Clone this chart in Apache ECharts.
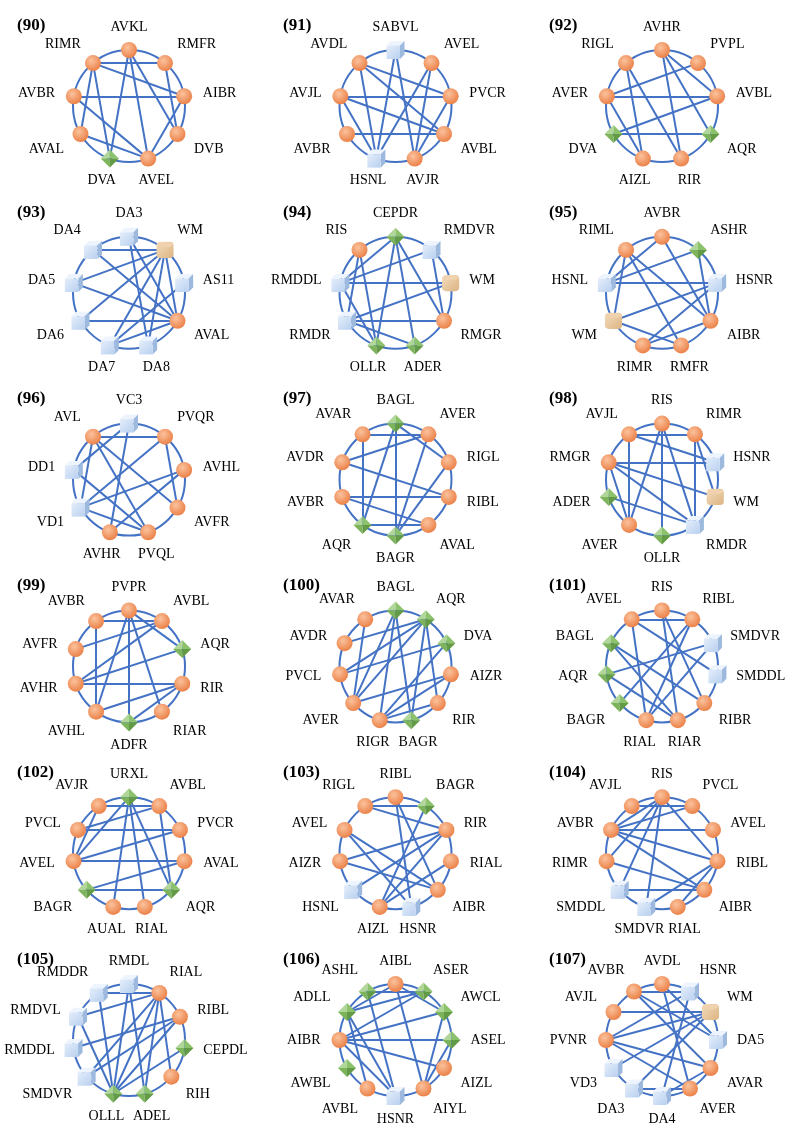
<!DOCTYPE html>
<html>
<head>
<meta charset="utf-8">
<script src="https://cdn.jsdelivr.net/npm/echarts@6/dist/echarts.min.js"></script>
<style>
  html, body { margin: 0; background: #fff; }
  #main { width: 790px; height: 1144px; }
</style>
</head>
<body>
<div id="main"></div>
<script>
// node kinds: o = orange ball, g = green diamond, b = blue cube, w = tan WM
var names90 = ['AVKL', 'RMFR', 'AIBR', 'DVB', 'AVEL', 'DVA', 'AVAL', 'AVBR', 'RIMR'];
var kinds90 = 'ooooogooo';
var edges90 = [['RIMR','RMFR'],['RIMR','AIBR'],['RIMR','DVA'],['RIMR','AVAL'],['AVKL','DVA'],['AVKL','AVEL'],
  ['AVKL','DVB'],['AVBR','AIBR'],['AVBR','AVEL'],['AVAL','AVEL'],['AIBR','AVEL'],['RMFR','DVB']];

var names91 = ['SABVL', 'AVEL', 'PVCR', 'AVBL', 'AVJR', 'HSNL', 'AVBR', 'AVJL', 'AVDL'];
var kinds91 = 'boooobooo';
var edges91 = [['SABVL','AVJR'],['AVDL','PVCR'],['AVDL','HSNL'],['AVDL','AVBL'],['AVJL','PVCR'],['AVJL','AVBL'],
  ['AVJL','HSNL'],['AVBR','AVBL'],['AVEL','AVJR'],['AVEL','HSNL'],['PVCR','AVJR'],['SABVL','HSNL']];

var names92 = ['AVHR', 'PVPL', 'AVBL', 'AQR', 'RIR', 'AIZL', 'DVA', 'AVER', 'RIGL'];
var kinds92 = 'ooogoogoo';
var edges92 = [['RIGL','AIZL'],['RIGL','RIR'],['AVHR','AVBL'],['AVHR','RIR'],['AVHR','AQR'],['AVER','PVPL'],
  ['AVER','AVBL'],['AVER','AIZL'],['DVA','AVBL'],['DVA','AQR']];

var names93 = ['DA3', 'WM', 'AS11', 'AVAL', 'DA8', 'DA7', 'DA6', 'DA5', 'DA4'];
var kinds93 = 'bwbobbbbb';
var edges93 = [['DA4','WM'],['DA4','AVAL'],['DA3','AVAL'],['DA3','DA8'],['WM','DA5'],['WM','DA6'],['WM','DA7'],
  ['WM','DA8'],['WM','AVAL'],['DA5','AVAL'],['DA6','AVAL'],['DA7','AVAL'],['AS11','DA7']];

var names94 = ['CEPDR', 'RMDVR', 'WM', 'RMGR', 'ADER', 'OLLR', 'RMDR', 'RMDDL', 'RIS'];
var kinds94 = 'gbwoggbbo';
var edges94 = [['CEPDR','RMDDL'],['CEPDR','OLLR'],['CEPDR','ADER'],['CEPDR','RMGR'],['RIS','OLLR'],['RIS','RMDR'],
  ['RMDVR','RMDDL'],['RMDVR','RMGR'],['RMDDL','WM'],['WM','RMDR'],['RMDR','RMGR'],['RMDR','ADER'],['RMDDL','OLLR']];

var names95 = ['AVBR', 'ASHR', 'HSNR', 'AIBR', 'RMFR', 'RIMR', 'WM', 'HSNL', 'RIML'];
var kinds95 = 'ogbooowbo';
var edges95 = [['AVBR','HSNL'],['AVBR','AIBR'],['ASHR','HSNL'],['ASHR','AIBR'],['RIML','WM'],['RIML','AIBR'],
  ['RIML','RMFR'],['HSNL','HSNR'],['HSNR','WM'],['HSNR','RIMR'],['WM','RMFR'],['RIMR','AIBR']];

var names96 = ['VC3', 'PVQR', 'AVHL', 'AVFR', 'PVQL', 'AVHR', 'VD1', 'DD1', 'AVL'];
var kinds96 = 'booooobbo';
var edges96 = [['AVL','PVQR'],['AVL','AVFR'],['AVL','PVQL'],['AVL','VD1'],['VC3','DD1'],['VC3','AVHR'],
  ['PVQR','VD1'],['PVQR','AVFR'],['AVHL','VD1'],['AVHL','AVHR'],['DD1','PVQL'],['VD1','PVQL']];

var names97 = ['BAGL', 'AVER', 'RIGL', 'RIBL', 'AVAL', 'BAGR', 'AQR', 'AVBR', 'AVDR', 'AVAR'];
var kinds97 = 'gooooggooo';
var edges97 = [['AVAR','AVER'],['AVAR','AQR'],['BAGL','AQR'],['BAGL','BAGR'],['BAGL','RIGL'],['AVER','AVDR'],
  ['AVDR','RIBL'],['AVBR','RIBL'],['AVBR','AVAL'],['RIGL','BAGR'],['AQR','AVAL'],['AVER','BAGR']];

var names98 = ['RIS', 'RIMR', 'HSNR', 'WM', 'RMDR', 'OLLR', 'AVER', 'ADER', 'RMGR', 'AVJL'];
var kinds98 = 'oobwbgogoo';
var edges98 = [['AVJL','RIMR'],['AVJL','HSNR'],['AVJL','AVER'],['RIS','AVER'],['RIS','OLLR'],['RIS','RMDR'],
  ['RIMR','RMDR'],['RIMR','WM'],['RMGR','HSNR'],['RMGR','WM'],['RMGR','RMDR'],['RMGR','AVER'],['ADER','RMDR']];

var names99 = ['PVPR', 'AVBL', 'AQR', 'RIR', 'RIAR', 'ADFR', 'AVHL', 'AVHR', 'AVFR', 'AVBR'];
var kinds99 = 'oogoogoooo';
var edges99 = [['AVBR','AVBL'],['AVBR','AVHL'],['PVPR','AQR'],['PVPR','AVHL'],['PVPR','ADFR'],['PVPR','RIAR'],
  ['AVBL','AVFR'],['AVBL','AVHR'],['AQR','AVHR'],['AVHR','RIR'],['AVHL','RIR'],['RIR','ADFR']];

var names100 = ['BAGL', 'AQR', 'DVA', 'AIZR', 'RIR', 'BAGR', 'RIGR', 'AVER', 'PVCL', 'AVDR', 'AVAR'];
var kinds100 = 'gggoogooooo';
var edges100 = [['BAGL','AVER'],['BAGL','RIGR'],['BAGL','BAGR'],['AQR','AVDR'],['AQR','PVCL'],['AQR','RIR'],
  ['AQR','BAGR'],['AQR','AVER'],['DVA','PVCL'],['DVA','RIGR'],['AVAR','AVER'],['AIZR','AVER'],['AIZR','RIGR'],['RIR','RIGR']];

var names101 = ['RIS', 'RIBL', 'SMDVR', 'SMDDL', 'RIBR', 'RIAR', 'RIAL', 'BAGR', 'AQR', 'BAGL', 'AVEL'];
var kinds101 = 'oobbooogggo';
var edges101 = [['AVEL','RIBL'],['AVEL','SMDDL'],['AVEL','RIAL'],['RIS','RIBR'],['RIS','RIAR'],['RIBL','RIAL'],
  ['RIBL','BAGR'],['BAGL','RIBR'],['BAGL','RIAR'],['AQR','SMDVR'],['AQR','RIAR'],['SMDVR','RIAL']];

var names102 = ['URXL', 'AVBL', 'PVCR', 'AVAL', 'AQR', 'RIAL', 'AUAL', 'BAGR', 'AVEL', 'PVCL', 'AVJR'];
var kinds102 = 'gooogoogooo';
var edges102 = [['AVJR','AVBL'],['AVJR','AVEL'],['URXL','AVEL'],['URXL','AUAL'],['URXL','RIAL'],['URXL','AQR'],
  ['AVBL','PVCL'],['AVBL','AQR'],['PVCL','PVCR'],['AVEL','PVCR'],['AVEL','AVAL'],['AVAL','BAGR'],['BAGR','AQR']];

var names103 = ['RIBL', 'BAGR', 'RIR', 'RIAL', 'AIBR', 'HSNR', 'AIZL', 'HSNL', 'AIZR', 'AVEL', 'RIGL'];
var kinds103 = 'ogooobobooo';
var edges103 = [['RIGL','BAGR'],['RIGL','RIR'],['RIBL','AIBR'],['RIBL','HSNR'],['BAGR','AIZL'],['AVEL','AIBR'],
  ['AVEL','HSNR'],['AIZR','RIR'],['AIZR','AIBR'],['RIR','HSNL'],['RIR','AIZL'],['RIAL','AIZL']];

var names104 = ['RIS', 'PVCL', 'AVEL', 'RIBL', 'AIBR', 'RIAL', 'SMDVR', 'SMDDL', 'RIMR', 'AVBR', 'AVJL'];
var kinds104 = 'oooooobbooo';
var edges104 = [['AVJL','PVCL'],['RIS','AVBR'],['RIS','RIMR'],['RIS','SMDDL'],['RIS','SMDVR'],['RIS','RIBL'],
  ['PVCL','AVBR'],['AVBR','AVEL'],['AVBR','RIBL'],['AVBR','AIBR'],['RIMR','AIBR'],['SMDDL','AIBR'],
  ['SMDVR','RIBL'],['RIAL','RIBL']];

var names105 = ['RMDL', 'RIAL', 'RIBL', 'CEPDL', 'RIH', 'ADEL', 'OLLL', 'SMDVR', 'RMDDL', 'RMDVL', 'RMDDR'];
var kinds105 = 'boogoggbbbb';
var edges105 = [['RMDDR','RIAL'],['RMDL','OLLL'],['RMDL','ADEL'],['RMDDR','OLLL'],['RMDVL','RIAL'],['RMDVL','OLLL'],
  ['RMDDL','RIBL'],['SMDVR','RIAL'],['RIAL','OLLL'],['RIAL','ADEL'],['RIAL','RIH'],['RIBL','OLLL'],
  ['CEPDL','OLLL'],['SMDVR','RIBL']];

var names106 = ['AIBL', 'ASER', 'AWCL', 'ASEL', 'AIZL', 'AIYL', 'HSNR', 'AVBL', 'AWBL', 'AIBR', 'ADLL', 'ASHL'];
var kinds106 = 'ogggoobogogg';
var edges106 = [['ASHL','ASER'],['ASHL','HSNR'],['AIBL','ADLL'],['AIBL','AIYL'],['AIBL','AWCL'],['ASER','ADLL'],
  ['ASER','AIBR'],['AWCL','AIBR'],['ADLL','AVBL'],['ADLL','HSNR'],['AIBR','ASEL'],['AIBR','AIZL'],
  ['AIBR','HSNR'],['ASEL','AIYL'],['AWCL','AIYL']];

var names107 = ['AVDL', 'HSNR', 'WM', 'DA5', 'AVAR', 'AVER', 'DA4', 'DA3', 'VD3', 'PVNR', 'AVJL', 'AVBR'];
var kinds107 = 'obwboobbbooo';
var edges107 = [['AVBR','HSNR'],['AVBR','DA5'],['AVBR','AVAR'],['AVDL','DA5'],['AVDL','AVER'],['HSNR','PVNR'],
  ['HSNR','DA4'],['WM','PVNR'],['WM','VD3'],['WM','DA3'],['WM','AVJL'],['PVNR','AVAR'],['PVNR','AVER'],
  ['DA3','AVER'],['DA4','AVAR']];

var panelIds = [90, 91, 92, 93, 94, 95, 96, 97, 98, 99, 100, 101, 102, 103, 104, 105, 106, 107];

var panelNames = [names90, names91, names92, names93, names94, names95, names96, names97, names98,
  names99, names100, names101, names102, names103, names104, names105, names106, names107];
var panelKinds = [kinds90, kinds91, kinds92, kinds93, kinds94, kinds95, kinds96, kinds97, kinds98,
  kinds99, kinds100, kinds101, kinds102, kinds103, kinds104, kinds105, kinds106, kinds107];
var panelEdges = [edges90, edges91, edges92, edges93, edges94, edges95, edges96, edges97, edges98,
  edges99, edges100, edges101, edges102, edges103, edges104, edges105, edges106, edges107];

var BLUE = '#4472c4';

function svgUri(body) {
  return 'image://data:image/svg+xml;charset=utf-8,' + encodeURIComponent(
    '<svg xmlns="http://www.w3.org/2000/svg" viewBox="0 0 20 20">' + body + '</svg>');
}

var cubeSym = svgUri(
  '<defs><linearGradient id="f" x1="0" y1="0" x2="1" y2="1">' +
  '<stop offset="0" stop-color="#e4eefb"/><stop offset="1" stop-color="#b9d0ef"/></linearGradient></defs>' +
  '<polygon points="1,5.5 5.5,1 19,1 14.5,5.5" fill="#eef4fd"/>' +
  '<polygon points="14.5,5.5 19,1 19,14.5 14.5,19" fill="#9db9de"/>' +
  '<rect x="1" y="5.5" width="13.5" height="13.5" fill="url(#f)"/>');

var diamondSym = svgUri(
  '<polygon points="10,1 1,10 10,10" fill="#b1d699"/>' +
  '<polygon points="10,1 19,10 10,10" fill="#8dc26c"/>' +
  '<polygon points="1,10 10,19 10,10" fill="#7db35a"/>' +
  '<polygon points="19,10 10,19 10,10" fill="#639a45"/>');

var wmSym = svgUri(
  '<defs><linearGradient id="t" x1="0" y1="0" x2="1" y2="1">' +
  '<stop offset="0" stop-color="#f3dcbd"/><stop offset="1" stop-color="#dcb482"/></linearGradient></defs>' +
  '<rect x="1" y="1.5" width="18" height="17" rx="4" fill="url(#t)"/>' +
  '<ellipse cx="10" cy="4.5" rx="8" ry="2.6" fill="#f0d3ae"/>');

var ballColor = {
  type: 'radial', x: 0.4, y: 0.35, r: 0.7,
  colorStops: [{ offset: 0, color: '#fbc29c' }, { offset: 1, color: '#ea7d43' }]
};

function nodeStyle(kind) {
  if (kind === 'b') return { symbol: cubeSym, symbolSize: 20 };
  if (kind === 'g') return { symbol: diamondSym, symbolSize: 20 };
  if (kind === 'w') return { symbol: wmSym, symbolSize: 19 };
  return { symbol: 'circle', symbolSize: 16, itemStyle: { color: ballColor } };
}

var titles = [], polars = [], angleAxes = [], radiusAxes = [], series = [];

panelIds.forEach(function (id, k) {
  var col = k % 3, row = Math.floor(k / 3);
  var cx = 129 + col * 266.5, cy = 106 + row * 186.8;
  var names = panelNames[k], kinds = panelKinds[k], n = names.length;

  titles.push({
    text: '(' + id + ')', left: 17 + col * 266, top: 17 + row * 186.8, padding: 0,
    textStyle: { fontFamily: 'Liberation Serif', fontWeight: 'bold', fontSize: 17, color: '#000' }
  });
  polars.push({ center: [cx, cy], radius: 56 });
  angleAxes.push({
    polarIndex: k, type: 'value', min: 0, max: n, startAngle: 90, clockwise: true,
    axisLine: { show: true, lineStyle: { color: BLUE, width: 2 } },
    axisTick: { show: false }, axisLabel: { show: false }, splitLine: { show: false }
  });
  radiusAxes.push({ polarIndex: k, type: 'value', min: 0, max: 1, show: false });

  var data = names.map(function (name, i) {
    var a = i / n * Math.PI * 2, sx = Math.sin(a), sy = -Math.cos(a);
    var st = nodeStyle(kinds[i]);
    st.name = name;
    st.value = [1, i];
    st.label = {
      align: sx > 0.45 ? 'left' : (sx < -0.45 ? 'right' : 'center'),
      verticalAlign: sy < -0.45 ? 'bottom' : (sy > 0.45 ? 'top' : 'middle'),
      offset: [sx * (Math.abs(sx) > 0.45 ? 19 : 24), sy * 16]
    };
    return st;
  });

  series.push({
    type: 'graph', coordinateSystem: 'polar', polarIndex: k,
    data: data,
    links: panelEdges[k].map(function (e) { return { source: e[0], target: e[1] }; }),
    lineStyle: { color: BLUE, width: 2, opacity: 1, curveness: 0 },
    label: {
      show: true, position: 'inside', formatter: '{b}',
      fontFamily: 'Liberation Serif', fontSize: 14, color: '#000'
    },
    emphasis: { disabled: true },
    z: 3
  });
});

var chart = echarts.init(document.getElementById('main'), null, { renderer: 'canvas' });
chart.setOption({
  backgroundColor: '#fff',
  animation: false,
  title: titles,
  polar: polars,
  angleAxis: angleAxes,
  radiusAxis: radiusAxes,
  series: series
});
</script>
</body>
</html>
